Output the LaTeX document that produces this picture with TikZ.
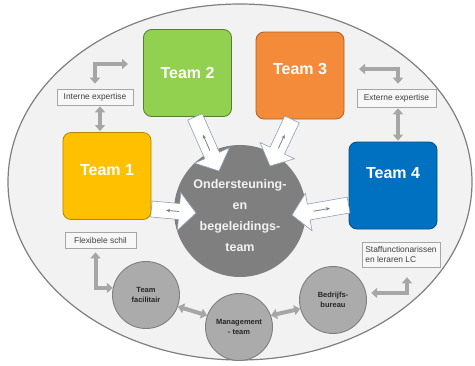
\documentclass[tikz,border=0pt]{standalone}
\usepackage{fontspec}
\setmainfont{Liberation Sans}
\usetikzlibrary{calc,arrows.meta}

\definecolor{teamone}{HTML}{FFC000}
\definecolor{teamtwo}{HTML}{92D050}
\definecolor{teamthree}{HTML}{F38B3A}
\definecolor{teamfour}{HTML}{0070C0}
\definecolor{fieldgray}{HTML}{F2F2F2}
\definecolor{framegray}{HTML}{7F7F7F}
\definecolor{coregray}{HTML}{7F7F7F}
\definecolor{unitgray}{HTML}{ABABAB}
\definecolor{pipegray}{HTML}{A6A6A6}
\definecolor{arrowline}{HTML}{8FA0B6}
\definecolor{inktext}{HTML}{404040}

\tikzset{
  team/.style={rectangle, rounded corners=8pt, minimum width=88pt, minimum height=87pt, line width=0.8pt},
  teamtext/.style={text=white, font=\bfseries\fontsize{16}{19}\selectfont},
  coretext/.style={text=fieldgray, align=center, font=\bfseries\fontsize{12.5}{21}\selectfont},
  unit/.style={circle, fill=unitgray, draw=framegray, line width=0.9pt, minimum size=67pt, inner sep=0pt,
    align=center, text=black!85, font=\bfseries\fontsize{7.5}{10}\selectfont},
  infobox/.style={rectangle, fill=white!97!black, draw=pipegray, line width=0.6pt, inner sep=2pt,
    text=inktext, font=\fontsize{8.4}{10.5}\selectfont},
  pipe/.style={draw=pipegray, line width=4pt,
    {Triangle[width=10pt,length=6pt]}-{Triangle[width=10pt,length=6pt]}},
  blockarrow/.style={fill=white, draw=arrowline, line width=0.6pt, line join=miter},
  backarrow/.style={draw=framegray, line width=0.8pt, -{Stealth[length=4pt,width=3.5pt]}}
}

\newcommand\blockarrow[2]{%
  \coordinate (ba head) at ($(#2)!17pt!(#1)$);
  \draw[blockarrow] ($(#1)!8pt!90:(#2)$) -- ($(ba head)!8pt!90:(#2)$)
    -- ($(ba head)!19pt!90:(#2)$) -- (#2) -- ($(ba head)!19pt!-90:(#2)$)
    -- ($(ba head)!8pt!-90:(#2)$) -- ($(#1)!8pt!-90:(#2)$) -- cycle;
  \draw[backarrow] ($(#1)!0.62!(#2)$) -- ($(#1)!0.33!(#2)$);}

\begin{document}
\begin{tikzpicture}[x=1pt,y=-1pt]
  \useasboundingbox (0,0) rectangle (475,365);
  \draw[fill=fieldgray, draw=framegray, line width=1.2pt] (240,182) ellipse [x radius=232pt, y radius=178pt];

  \node[team, fill=teamone, draw=teamone!70!black, label={[teamtext,yshift=6pt]center:Team 1}] (team1) at (107,176) {};
  \node[team, fill=teamtwo, draw=teamtwo!60!black, label={[teamtext]center:Team 2}] (team2) at (187.5,73) {};
  \node[team, fill=teamthree, draw=teamthree!70!black, label={[teamtext,yshift=7pt]center:Team 3}] (team3) at (300,75.5) {};
  \node[team, fill=teamfour, draw=teamfour!70!black, label={[teamtext,yshift=12pt]center:Team 4}] (team4) at (393,185.5) {};

  \node[circle, fill=coregray, minimum size=132pt, inner sep=0pt,
    label={[coretext,yshift=-5pt]center:{Ondersteuning-\\en\\begeleidings-\\team}}] (core) at (240,211) {};

  \node[infobox, minimum width=76pt, minimum height=16pt] (intern) at (95,97) {Interne expertise};
  \node[infobox, minimum width=79pt, minimum height=18pt] (extern) at (396.5,98) {Externe expertise};
  \node[infobox, minimum width=71pt, minimum height=16pt] (flex) at (100.5,240) {Flexibele schil};
  \node[infobox, minimum width=78pt, minimum height=25pt, align=left] (staff) at (401,254.5) {Staffunctionarissen\\en leraren LC};

  \node[unit] (facil) at (146,295) {Team\\facilitair};
  \node[unit] (mgmt) at (239,327) {Management\\- team};
  \node[unit] (bureau) at (333,300) {Bedrijfs-\\bureau};

  \coordinate (intern end) at (128,64);
  \coordinate (extern end) at (359,69);
  \draw[pipe] ([yshift=5pt]intern.north) |- (intern end);
  \draw[pipe] ([xshift=5pt,yshift=-1pt]intern.south) -- ([xshift=5pt,yshift=1pt]intern.south |- team1.north);
  \draw[pipe] ([xshift=1.5pt,yshift=5pt]extern.north) |- (extern end);
  \draw[pipe] ([xshift=1.5pt,yshift=-1pt]extern.south) -- ([xshift=1.5pt,yshift=1pt]extern.south |- team4.north);
  \draw[pipe] ([xshift=-5pt,yshift=-4pt]flex.south) |- (facil.168);
  \draw[pipe] ([xshift=5pt]bureau.12) -| ([xshift=6pt,yshift=-10pt]staff.south);
  \draw[pipe] (facil.-20) -- (mgmt.160);
  \draw[pipe] (mgmt.20) -- (bureau.195);

  \coordinate (tip1) at (196,213);
  \coordinate (tip2) at (219,171);
  \coordinate (tip3) at (270,166);
  \coordinate (tip4) at (292,215);
  \coordinate (base1) at ([yshift=-33pt]team1.east);
  \coordinate (base2) at ([xshift=7.5pt]team2.south);
  \coordinate (base3) at ([xshift=-8pt]team3.south);
  \coordinate (base4) at ([yshift=-19.5pt]team4.west);
  \blockarrow{base1}{tip1}
  \blockarrow{base2}{tip2}
  \blockarrow{base3}{tip3}
  \blockarrow{base4}{tip4}
\end{tikzpicture}
\end{document}
